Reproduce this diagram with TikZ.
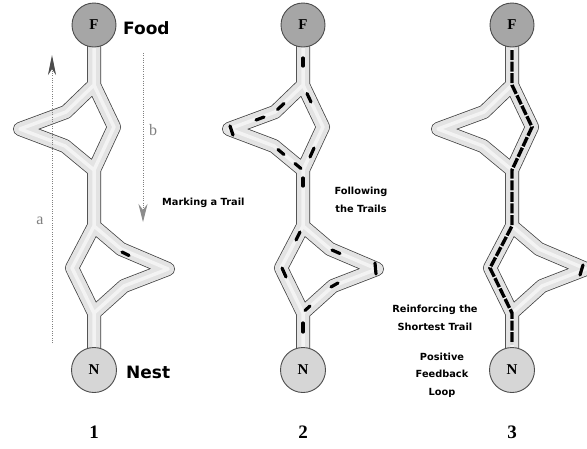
\documentclass[tikz,border=0pt]{standalone}
\usepackage{fontspec}
\setmainfont{Liberation Serif}
\newfontfamily\labfont{DejaVu Sans}
\usetikzlibrary{arrows.meta,calc}
\definecolor{bandgray}{HTML}{E3E3E3}
\definecolor{stripe}{HTML}{F3F3F3}
\definecolor{fgray}{HTML}{A6A6A6}
\definecolor{ngray}{HTML}{D6D6D6}
\tikzset{
  bandA/.style={draw=black!75, line width=14pt, line join=round},
  bandB/.style={draw=bandgray, line width=12.5pt, line join=round},
  bandC/.style={draw=stripe, line width=3.5pt, line join=round},
  fcirc/.style={circle, draw=black!70, line width=0.9pt, fill=fgray, minimum size=44pt, inner sep=0pt, font=\fontsize{15}{18}\selectfont\bfseries},
  ncirc/.style={circle, draw=black!70, line width=0.9pt, fill=ngray, minimum size=45pt, inner sep=0pt, font=\fontsize{15}{18}\selectfont\bfseries},
  numlab/.style={inner sep=0pt, font=\fontsize{19}{22}\selectfont\bfseries},
  biglab/.style={inner sep=0pt, anchor=west, font=\labfont\fontsize{17}{20}\selectfont\bfseries},
  smalllab/.style={inner sep=0pt, align=center, font=\labfont\fontsize{9.8}{17.5}\selectfont\bfseries},
  ant/.style={draw=black, line width=3.2pt, line cap=round},
  shortest/.style={draw=black, line width=3.4pt, dash pattern=on 10pt off 1.6pt},
  dotline/.style={draw=black!50, line width=0.9pt, dash pattern=on 0.9pt off 1.4pt},
  axlab/.style={inner sep=0pt, text=black!50, font=\fontsize{16}{18}\selectfont}
}
\newcommand\panel[2]{%
\begin{scope}[shift={(#1,0)}]
\foreach \st in {bandA,bandB,bandC}{%
  \draw[\st] (0,40) -- (0,85) -- (-28,112) -- (-74,129) -- (-29,146) -- (0,170) -- (0,226) -- (-22,268) -- (0,313) -- (0,355)
             (0,70) -- (0,85) -- (20,127) -- (0,170) -- (0,185)
             (0,205) -- (0,226) -- (27,249) -- (74,269) -- (30,286) -- (0,313) -- (0,330);
}
\node[fcirc] (F#2) at (0,25) {F};
\node[ncirc] (N#2) at (0,370) {N};
\node[numlab] (L#2) at (0,432) {#2};
\end{scope}}
\begin{document}
\begin{tikzpicture}[x=1pt,y=-1pt]
\useasboundingbox (0,0) rectangle (587,448);
\clip (0,0) rectangle (587,448);
\fill[white] (0,0) rectangle (587,448);
% panels
\panel{94}{1}
\panel{303}{2}
\panel{512}{3}
% panel 1 ant
\begin{scope}[shift={(94,0)}]
  \draw[ant] (28,252) -- (35,255.5);
\end{scope}
% panel 2 ants
\begin{scope}[shift={(303,0)}]
  \draw[ant] (0,58) -- (0,66);
  \draw[ant] (4,93.5) -- (8,102);
  \draw[ant] (11,148) -- (7,157);
  \draw[ant] (-19,103.5) -- (-25.5,109.5);
  \draw[ant] (-39,117) -- (-47,120);
  \draw[ant] (-73,126) -- (-70,135);
  \draw[ant] (-25,149.5) -- (-19,154.5);
  \draw[ant] (-8,163.5) -- (-2,168.5);
  \draw[ant] (0,178) -- (0,186);
  \draw[ant] (-3,232) -- (-7,240);
  \draw[ant] (-21,268) -- (-17,277);
  \draw[ant] (7,306) -- (2,310.5);
  \draw[ant] (0,323) -- (0,332);
  \draw[ant] (29,250) -- (37,253.5);
  \draw[ant] (72,263) -- (73,274);
  \draw[ant] (35,283) -- (28,287);
\end{scope}
% panel 3 shortest trail
\begin{scope}[shift={(512,0)}]
  \draw[shortest] (0,50) -- (0,85) -- (20,127) -- (0,170) -- (0,226) -- (-22,268) -- (0,313) -- (0,344);
  \draw[ant] (68,275) -- (71,265);
\end{scope}
% axis arrows
\coordinate (a0) at (52,343);
\coordinate (a1) at (52,55);
\coordinate (b0) at (143,53);
\coordinate (b1) at (143,222);
\draw[dotline, -{Stealth[length=20pt,width=8pt,inset=6pt,color=black!70]}] (a0) -- (a1);
\draw[dotline, -{Stealth[length=18pt,width=9pt,inset=6pt,color=black!45]}] (b0) -- (b1);
\node[axlab] (la) at (40,221) {a};
\node[axlab] (lb) at (153,130) {b};
% texts
\node[biglab] (food) at (123,28) {Food};
\node[biglab] (nest) at (126,372) {Nest};
\node[smalllab, anchor=west] (mark) at (162,203) {Marking a Trail};
\node[smalllab] (follow) at (361,200) {Following\\the Trails};
\node[smalllab] (reinf) at (435,318) {Reinforcing the\\Shortest Trail};
\node[smalllab] (posit) at (442,375) {Positive\\Feedback\\Loop};
\end{tikzpicture}
\end{document}
